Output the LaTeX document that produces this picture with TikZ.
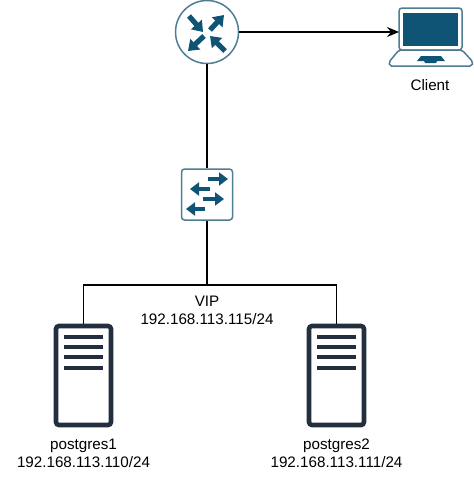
\documentclass[tikz,border=0pt]{standalone}
\usepackage{fontspec}
\setmainfont{Liberation Sans}
\usetikzlibrary{arrows.meta}
\definecolor{netblue}{HTML}{0F5475}
\definecolor{ringblue}{HTML}{4F7D94}
\definecolor{srvdark}{HTML}{232F3E}
\tikzset{
  lbl/.style={font=\fontsize{15.2}{18}\selectfont,text=black,inner sep=0pt,align=center},
  wire/.style={draw=black,line width=1.3pt},
  flow/.style={wire,-{Stealth[length=12pt,width=10pt]}},
  bigarrow/.style={draw=netblue,line width=5.2pt,-{Triangle[length=10pt,width=14pt]}},
  smallarrow/.style={draw=netblue,line width=4.4pt,-{Triangle[length=9pt,width=13pt]}},
  serverbox/.style={draw=srvdark,line width=4.6pt,rounded corners=3pt,fill=white,minimum width=55pt,minimum height=99pt,inner sep=0pt},
  bar/.style={draw=srvdark,line width=4.6pt}
}
\begin{document}
\begin{tikzpicture}[x=1pt,y=-1pt]
\useasboundingbox (0,0) rectangle (474,480);
% router
\node[circle,draw=ringblue,line width=1.5pt,fill=white,minimum size=63pt,inner sep=0pt] (router) at (207,32) {};
\draw[bigarrow] (189,16) -- (203,32);
\draw[bigarrow] (210,30) -- (224,15);
\draw[bigarrow] (204,36) -- (188,51);
\draw[bigarrow] (225,51) -- (210,36);
% switch
\node[draw=ringblue,line width=1.5pt,rounded corners=3pt,fill=white,minimum width=51pt,minimum height=51pt,inner sep=0pt] (switch) at (207,194.5) {};
\draw[smallarrow] (208,179) -- (228,179);
\draw[smallarrow] (210,189) -- (190,189);
\draw[smallarrow] (203,199) -- (224,199);
\draw[smallarrow] (205,209) -- (186,209);
% laptop
\node[draw=ringblue,line width=1.5pt,rounded corners=3pt,fill=white,minimum width=63pt,minimum height=42pt,inner sep=0pt] (client) at (430.5,29) {};
\fill[netblue] (403,13) rectangle (458,46);
\draw[draw=ringblue,line width=1.5pt,fill=white,rounded corners=2pt] (399,50) -- (389,62) -- (389.5,66) -- (472,66) -- (473,62) -- (462,50) -- cycle;
\fill[netblue] (421,56) -- (441,56) -- (445,61) -- (437,61) -- (436,63) -- (425,63) -- (424,61) -- (417,61) -- cycle;
\node[lbl] (clientlabel) at (430,85) {Client};
% servers
\node[serverbox] (srvA) at (83.5,375.5) {};
\node[serverbox] (srvB) at (336.5,375.5) {};
\foreach \y in {337,347,357,368}{
  \draw[bar] (64,\y) -- (103,\y);
  \draw[bar] (317,\y) -- (356,\y);
}
% connectors
\coordinate (bus) at (207,285);
\coordinate (clientin) at (399,32);
\draw[flow] (router) -- (clientin);
\draw[wire] (router) -- (switch);
\draw[wire] (switch) -- (bus);
\draw[wire] (srvA.north) |- (bus) -| (srvB.north);
% labels
\node[lbl] (vip) at (207,310) {VIP\\192.168.113.115/24};
\node[lbl] (pgA) at (83.5,453) {postgres1\\192.168.113.110/24};
\node[lbl] (pgB) at (336.5,453) {postgres2\\192.168.113.111/24};
\end{tikzpicture}
\end{document}
